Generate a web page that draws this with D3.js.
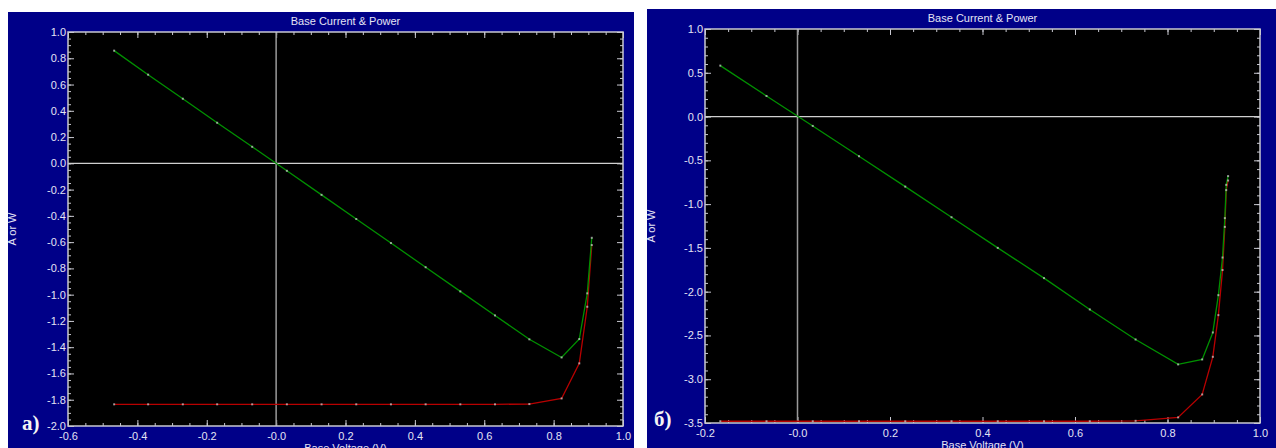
<!DOCTYPE html>
<html>
<head>
<meta charset="utf-8">
<script src="https://cdn.jsdelivr.net/npm/d3@7"></script>
<style>
  body { margin: 0; background: #fff; }
  svg { display: block; }
  .tick text { font-family: "Liberation Sans", Arial, sans-serif; font-size: 11px; fill: #e4e4f4; }
  .tick line { stroke: #c8c8d0; stroke-width: 1; }
  .domain { display: none; }
</style>
</head>
<body>
<div id="vis"></div>
<script>
// panel a) values
const aVoltage = [-0.467, -0.369, -0.269, -0.170, -0.069, 0.031, 0.131, 0.231, 0.331, 0.431, 0.531, 0.631, 0.730, 0.823, 0.874, 0.897, 0.910]
const aCurrent = [-1.835, -1.835, -1.835, -1.835, -1.835, -1.835, -1.835, -1.835, -1.835, -1.835, -1.835, -1.835, -1.833, -1.790, -1.523, -1.092, -0.622]
const aPower = [0.858, 0.675, 0.492, 0.309, 0.126, -0.057, -0.240, -0.424, -0.607, -0.791, -0.975, -1.158, -1.340, -1.478, -1.338, -0.990, -0.567]

// panel б) values
const bVoltage = [-0.167, -0.067, 0.033, 0.133, 0.233, 0.333, 0.433, 0.533, 0.632, 0.731, 0.823, 0.875, 0.898, 0.910, 0.919, 0.924, 0.927, 0.931]
const bCurrent = [-3.48, -3.48, -3.48, -3.48, -3.48, -3.48, -3.48, -3.48, -3.48, -3.475, -3.436, -3.174, -2.744, -2.268, -1.753, -1.26, -0.84, -0.73]
const bPower = [0.582, 0.235, -0.107, -0.453, -0.800, -1.150, -1.500, -1.845, -2.203, -2.546, -2.831, -2.774, -2.466, -2.040, -1.610, -1.160, -0.780, -0.680]

// ticks
const aXTicks = [-0.6, -0.4, -0.2, 0, 0.2, 0.4, 0.6, 0.8, 1.0]
const aXLabels = ['-0.6', '-0.4', '-0.2', '-0.0', '0.2', '0.4', '0.6', '0.8', '1.0']
const aYTicks = [1.0, 0.8, 0.6, 0.4, 0.2, 0, -0.2, -0.4, -0.6, -0.8, -1.0, -1.2, -1.4, -1.6, -1.8, -2.0]
const aYLabels = ['1.0', '0.8', '0.6', '0.4', '0.2', '0.0', '-0.2', '-0.4', '-0.6', '-0.8', '-1.0', '-1.2', '-1.4', '-1.6', '-1.8', '-2.0']
const bXTicks = [-0.2, 0, 0.2, 0.4, 0.6, 0.8, 1.0]
const bXLabels = ['-0.2', '-0.0', '0.2', '0.4', '0.6', '0.8', '1.0']
const bYTicks = [1.0, 0.5, 0, -0.5, -1.0, -1.5, -2.0, -2.5, -3.0, -3.5]
const bYLabels = ['1.0', '0.5', '0.0', '-0.5', '-1.0', '-1.5', '-2.0', '-2.5', '-3.0', '-3.5']

const title = 'Base Current & Power'
const xTitle = 'Base Voltage (V)'
const yTitle = 'A or W'

const W = 1276, H = 448
const bg = '#000088'
const textColor = '#e4e4f4'
const font = '"Liberation Sans", Arial, sans-serif'

const svg = d3.select('#vis')
    .append('svg')
    .attr('width', W)
    .attr('height', H)

const panels = [
    {
        tag: 'a)', box: { x: 8, y: 12, w: 626, h: 436 },
        plot: { left: 68, right: 623, top: 32, bottom: 426 },
        xDomain: [-0.6, 1.0], yDomain: [-2.0, 1.0],
        xTicks: aXTicks, xLabels: aXLabels, yTicks: aYTicks, yLabels: aYLabels,
        xMinor: 0.05, yMinor: 0.05,
        v: aVoltage, i: aCurrent, p: aPower,
        tagPos: [22, 430]
    },
    {
        tag: 'б)', box: { x: 647, y: 9, w: 629, h: 439 },
        plot: { left: 705, right: 1260, top: 29, bottom: 423 },
        xDomain: [-0.2, 1.0], yDomain: [-3.5, 1.0],
        xTicks: bXTicks, xLabels: bXLabels, yTicks: bYTicks, yLabels: bYLabels,
        xMinor: 0.05, yMinor: 0.1,
        v: bVoltage, i: bCurrent, p: bPower,
        tagPos: [654, 426]
    }
]

function minorTicks(domain, step){
    let out = []
    let n = Math.round((domain[1] - domain[0]) / step)
    for (let k = 0; k <= n; k++) out.push(+(domain[0] + k * step).toFixed(4))
    return out
}

function drawPanel(cfg){
    const g = svg.append('g')
    const pl = cfg.plot

    g.append('rect')
        .attr('x', cfg.box.x).attr('y', cfg.box.y)
        .attr('width', cfg.box.w).attr('height', cfg.box.h)
        .attr('fill', bg)

    g.append('rect')
        .attr('x', pl.left).attr('y', pl.top)
        .attr('width', pl.right - pl.left).attr('height', pl.bottom - pl.top)
        .attr('fill', '#000')

    const x = d3.scaleLinear().domain(cfg.xDomain).range([pl.left, pl.right])
    const y = d3.scaleLinear().domain(cfg.yDomain).range([pl.bottom, pl.top])

    const xMin = minorTicks(cfg.xDomain, cfg.xMinor)
    const yMin = minorTicks(cfg.yDomain, cfg.yMinor)

    // minor ticks, all four sides, pointing in
    g.append('g').attr('transform', `translate(0,${pl.bottom})`)
        .call(d3.axisBottom(x).tickValues(xMin).tickSize(-3).tickFormat(''))
    g.append('g').attr('transform', `translate(0,${pl.top})`)
        .call(d3.axisTop(x).tickValues(xMin).tickSize(-3).tickFormat(''))
    g.append('g').attr('transform', `translate(${pl.left},0)`)
        .call(d3.axisLeft(y).tickValues(yMin).tickSize(-3).tickFormat(''))
    g.append('g').attr('transform', `translate(${pl.right},0)`)
        .call(d3.axisRight(y).tickValues(yMin).tickSize(-3).tickFormat(''))

    // major ticks
    g.append('g').attr('transform', `translate(0,${pl.bottom})`)
        .call(d3.axisBottom(x).tickValues(cfg.xTicks).tickSize(-6).tickPadding(6)
            .tickFormat((d, k) => cfg.xLabels[k]))
    g.append('g').attr('transform', `translate(0,${pl.top})`)
        .call(d3.axisTop(x).tickValues(cfg.xTicks).tickSize(-6).tickFormat(''))
    g.append('g').attr('transform', `translate(${pl.left},0)`)
        .call(d3.axisLeft(y).tickValues(cfg.yTicks).tickSize(-6).tickPadding(2)
            .tickFormat((d, k) => cfg.yLabels[k]))
    g.append('g').attr('transform', `translate(${pl.right},0)`)
        .call(d3.axisRight(y).tickValues(cfg.yTicks).tickSize(-6).tickFormat(''))

    // zero lines
    g.append('line')
        .attr('x1', x(0)).attr('x2', x(0))
        .attr('y1', pl.top).attr('y2', pl.bottom)
        .attr('stroke', '#9a9a9a').attr('stroke-width', 1.5)
    g.append('line')
        .attr('x1', pl.left).attr('x2', pl.right)
        .attr('y1', y(0)).attr('y2', y(0))
        .attr('stroke', '#d0d0d0').attr('stroke-width', 1.2)

    // frame
    g.append('rect')
        .attr('x', pl.left).attr('y', pl.top)
        .attr('width', pl.right - pl.left).attr('height', pl.bottom - pl.top)
        .attr('fill', 'none').attr('stroke', '#c8c8d0').attr('stroke-width', 1.5)

    const line = d3.line().x(d => x(d[0])).y(d => y(d[1]))
    const cur = cfg.v.map((v, k) => [v, cfg.i[k]])
    const pow = cfg.v.map((v, k) => [v, cfg.p[k]])

    g.append('path').datum(cur)
        .attr('d', line).attr('fill', 'none')
        .attr('stroke', '#b80000').attr('stroke-width', 1.3)
    g.append('path').datum(pow)
        .attr('d', line).attr('fill', 'none')
        .attr('stroke', '#009000').attr('stroke-width', 1.3)

    g.selectAll('.dot')
        .data(cur.concat(pow))
        .enter()
        .append('rect')
        .attr('x', d => x(d[0]) - 1)
        .attr('y', d => y(d[1]) - 1)
        .attr('width', 2).attr('height', 2)
        .attr('fill', '#d0d0d0')
        .attr('opacity', 0.7)

    // texts
    g.append('text')
        .attr('x', (pl.left + pl.right) / 2)
        .attr('y', pl.top - 7)
        .attr('text-anchor', 'middle')
        .style('font-family', font).style('font-size', '11px')
        .attr('fill', textColor)
        .text(title)

    g.append('text')
        .attr('x', (pl.left + pl.right) / 2)
        .attr('y', pl.bottom + 26)
        .attr('text-anchor', 'middle')
        .style('font-family', font).style('font-size', '11px')
        .attr('fill', textColor)
        .text(xTitle)

    g.append('text')
        .attr('transform', `translate(${cfg.box.x + 8},${(pl.top + pl.bottom) / 2}) rotate(-90)`)
        .attr('text-anchor', 'middle')
        .style('font-family', font).style('font-size', '11px')
        .attr('fill', textColor)
        .text(yTitle)

    g.append('text')
        .attr('x', cfg.tagPos[0]).attr('y', cfg.tagPos[1])
        .style('font-family', '"Liberation Serif", "Times New Roman", serif')
        .style('font-size', '21px').style('font-weight', 'bold')
        .attr('fill', '#f4f4f4')
        .text(cfg.tag)
}

panels.forEach(drawPanel)
</script>
</body>
</html>
